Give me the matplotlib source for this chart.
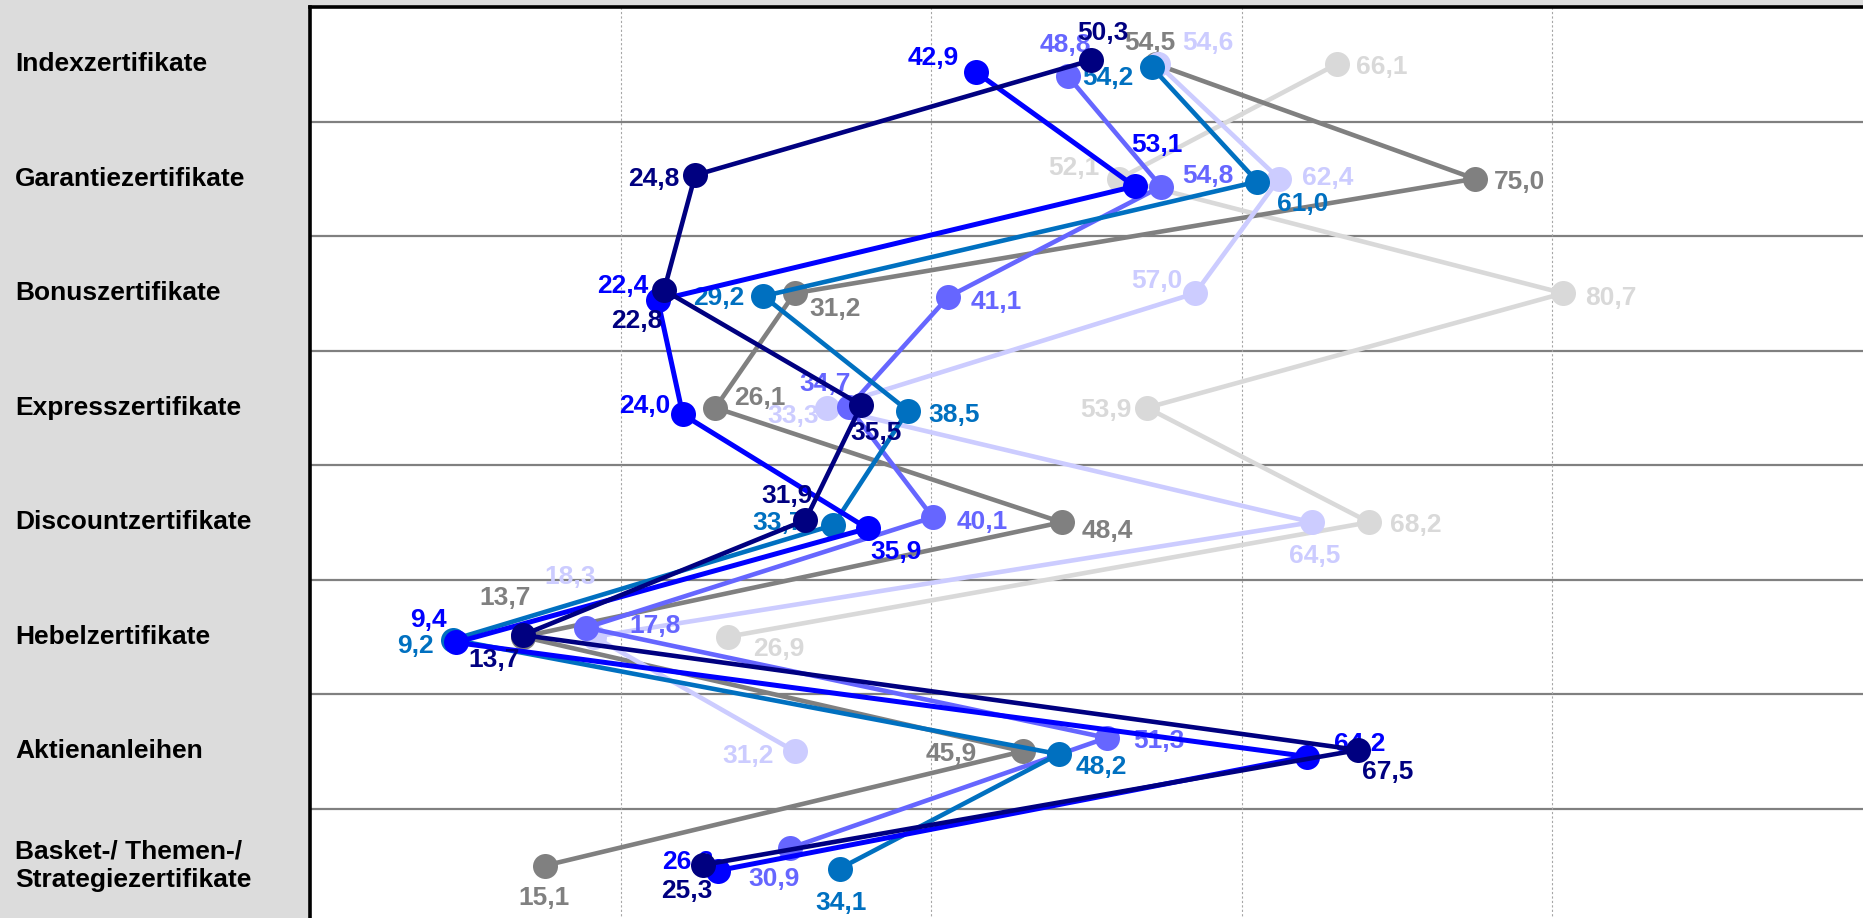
import numpy as np
import matplotlib.pyplot as plt
from matplotlib import transforms

# Zertifikate: Anteile je Produktgruppe, sieben Reihen
categories = ['Indexzertifikate', 'Garantiezertifikate', 'Bonuszertifikate',
              'Expresszertifikate', 'Discountzertifikate', 'Hebelzertifikate',
              'Aktienanleihen', 'Basket-/ Themen-/\nStrategiezertifikate']

nan = np.nan
lightgray = [66.1, 52.1, 80.7, 53.9, 68.2, 26.9, nan, nan]
gray = [54.5, 75.0, 31.2, 26.1, 48.4, 13.7, 45.9, 15.1]
lavender = [54.6, 62.4, 57.0, 33.3, 64.5, 18.3, 31.2, nan]
violet = [48.8, 54.8, 41.1, 34.7, 40.1, 17.8, 51.3, 30.9]
teal = [54.2, 61.0, 29.2, 38.5, 33.7, 9.2, 48.2, 34.1]
blue = [42.9, 53.1, 22.4, 24.0, 35.9, 9.4, 64.2, 26.3]
navy = [50.3, 24.8, 22.8, 35.5, 31.9, 13.7, 67.5, 25.3]

series = [lightgray, gray, lavender, violet, teal, blue, navy]
colors = ['#d9d9d9', '#808080', '#ccccff', '#6666ff', '#0070c0', '#0000ff', '#000080']
linewidths = [3.3, 3.3, 3.3, 3.3, 3.3, 3.6, 3.3]

# small vertical nudge per series (in rows): constant + drift per row
nudge = [(0, 0), (0, 0), (0, 0), (0.105, -0.037), (0.025, 0),
         (0.07, -0.004), (-0.035, 0.004)]

# label offsets from the marker in pixels (dx right, dy down)
label_pos = [
    [(45, 0), (-45, -13), (48, 2), (-41, 0), (47, 0), (51, 10), None, None],
    [(-7, -24), (45, 1), (40, 13), (44, -12), (46, 6), (-18, -41), (-72, 0), (-1, 30)],
    [(50, -24), (49, -3), (-38, -15), (-34, 6), (3, 31), (-24, -62), (-47, 2), None],
    [(-2, -34), (47, -13), (48, 3), (-24, -26), (49, 2), (69, -4), (52, 1), (-16, 28)],
    [(-44, 8), (45, 20), (-45, -1), (46, 2), (-55, -5), (-37, 4), (43, 10), (1, 32)],
    [(-43, -17), (22, -44), (-35, -17), (-38, -11), (29, 21), (-28, -25), (53, -15), (-31, -11)],
    [(12, -30), (-41, 1), (-27, 28), (15, 25), (-18, -27), (-29, 22), (29, 20), (-16, 24)],
]

W, H = 1863, 918
fig = plt.figure(figsize=(W / 100, H / 100), dpi=100, facecolor='#dcdcdc')
left = 310 / W
ax = fig.add_axes([left, -5 / H, 1 - left, 916 / H])
ax.set_facecolor('white')
ax.set_xlim(0, 100)
ax.set_ylim(len(categories) - 0.5, -0.5)
ax.set_xticks([])
ax.set_yticks([])
for side in ['right', 'bottom']:
    ax.spines[side].set_visible(False)
for side in ['left', 'top']:
    ax.spines[side].set_color('black')
    ax.spines[side].set_linewidth(2.6)

# row separators and dotted verticals
ax.hlines(np.arange(0.5, len(categories) - 1), 0, 100, color='#808080', lw=1.6, zorder=1)
ax.vlines([20, 40, 60, 80], -0.5, len(categories) - 0.5, color='#a6a6a6', lw=0.8,
          linestyles=(0, (2, 2)), zorder=1)

rows = np.arange(len(categories))
for i, (vals, c, lw) in enumerate(zip(series, colors, linewidths)):
    off, drift = nudge[i]
    y = rows + off + drift * rows
    z = 3 + i
    ax.plot(vals, y, color=c, lw=lw, marker='o', markersize=18,
            markeredgewidth=0, solid_capstyle='round', zorder=z)
    for j, v in enumerate(vals):
        if np.isnan(v) or label_pos[i][j] is None:
            continue
        dx, dy = label_pos[i][j]
        ax.annotate('{:.1f}'.format(v).replace('.', ','), xy=(v, y[j]),
                    xytext=(dx, -dy), textcoords='offset pixels',
                    ha='center', va='center_baseline', color=c,
                    fontsize=19, fontweight='bold', family='Liberation Sans',
                    zorder=z + 0.5, annotation_clip=False)

# category names in the grey panel on the left
trans = transforms.blended_transform_factory(fig.transFigure, ax.transData)
for j, cat in enumerate(categories):
    ax.text(15 / W, j, cat, transform=trans, ha='left', va='center',
            fontsize=19, fontweight='bold', family='Liberation Sans',
            color='black', clip_on=False)

fig.savefig('out.png', dpi=100, facecolor=fig.get_facecolor())
